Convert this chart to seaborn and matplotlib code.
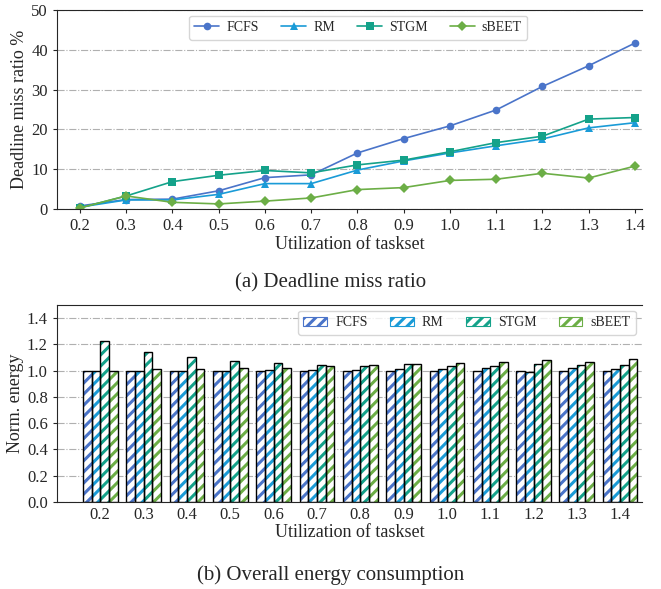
import numpy as np
import pandas as pd
import seaborn as sns
import matplotlib.pyplot as plt
from matplotlib.patches import Patch

utilization = [0.2, 0.3, 0.4, 0.5, 0.6, 0.7, 0.8, 0.9, 1.0, 1.1, 1.2, 1.3, 1.4]
schemes = ['FCFS', 'RM', 'STGM', 'sBEET']

# deadline miss ratio (%)
miss_fcfs = [0.8, 2.4, 2.5, 4.6, 7.9, 8.6, 14.1, 17.7, 20.9, 24.9, 30.8, 36.0, 41.7]
miss_rm = [0.5, 2.3, 2.3, 3.7, 6.4, 6.4, 9.8, 12.1, 14.1, 15.9, 17.6, 20.4, 21.7]
miss_stgm = [0.3, 3.3, 6.9, 8.5, 9.7, 9.1, 11.1, 12.3, 14.4, 16.7, 18.3, 22.6, 23.0]
miss_sbeet = [0.3, 3.3, 1.7, 1.3, 2.0, 2.8, 4.9, 5.4, 7.2, 7.5, 9.0, 7.8, 10.8]

# normalized energy
energy_fcfs = [1.0, 1.0, 1.0, 1.0, 1.0, 1.0, 1.0, 1.0, 1.0, 1.0, 1.0, 1.0, 1.0]
energy_rm = [0.998, 1.0, 1.0, 1.0, 1.002, 1.005, 1.008, 1.01, 1.01, 1.018, 0.987, 1.018, 1.015]
energy_stgm = [1.226, 1.145, 1.107, 1.076, 1.058, 1.04, 1.036, 1.048, 1.036, 1.036, 1.051, 1.043, 1.043]
energy_sbeet = [1.0, 1.012, 1.012, 1.02, 1.02, 1.033, 1.041, 1.051, 1.059, 1.066, 1.079, 1.069, 1.087]

colors = ['#4a74c9', '#1a9bd7', '#14a28a', '#6cae46']
markers = ['o', '^', 's', 'D']

sns.set_style('ticks')
plt.rcParams['font.family'] = ['Liberation Serif', 'DejaVu Serif']
plt.rcParams['hatch.linewidth'] = 2.2

miss = pd.DataFrame({'util': utilization * 4,
                     'scheme': np.repeat(schemes, len(utilization)),
                     'miss': miss_fcfs + miss_rm + miss_stgm + miss_sbeet})
energy = pd.DataFrame({'util': [f'{u:.1f}' for u in utilization] * 4,
                       'scheme': np.repeat(schemes, len(utilization)),
                       'energy': energy_fcfs + energy_rm + energy_stgm + energy_sbeet})

fig = plt.figure(figsize=(6.61, 5.89), dpi=100)
ax1 = fig.add_axes([0.086, 0.645, 0.885, 0.338])
ax2 = fig.add_axes([0.086, 0.148, 0.885, 0.334])

# (a) deadline miss ratio
sns.lineplot(data=miss, x='util', y='miss', hue='scheme', style='scheme', palette=colors,
             markers=markers, dashes=False, markersize=5.5, markeredgewidth=0,
             linewidth=1.2, ax=ax1)
ax1.set_xlim(0.15, 1.415)
ax1.set_ylim(0, 50)
ax1.set_xticks(utilization)
ax1.set_xticklabels([f'{u:.1f}' for u in utilization])
ax1.set_yticks([0, 10, 20, 30, 40, 50])
ax1.grid(axis='y', linestyle='-.', color='#b0b0b0', linewidth=0.8)
ax1.set_xlabel('Utilization of taskset', fontsize=13, labelpad=1)
ax1.set_ylabel('Deadline miss ratio %', fontsize=13, labelpad=2)
ax1.tick_params(labelsize=12, length=3)
ax1.legend(loc='upper center', ncol=4, fontsize=10, frameon=True, handlelength=1.8,
           handletextpad=0.5, columnspacing=1.6, borderaxespad=0.4,
           bbox_to_anchor=(0.515, 1.0))
ax1.spines['right'].set_visible(False)

# (b) energy, hatched bars: colored stripes on white, black outline
sns.barplot(data=energy, x='util', y='energy', hue='scheme', palette=colors, ax=ax2,
            width=0.8, errorbar=None, saturation=1, legend=False)
for p in ax2.patches:
    c = p.get_facecolor()
    p.set_facecolor('white')
    p.set_edgecolor(c)
    p.set_hatch('///')
    p.set_linewidth(0)
sns.barplot(data=energy, x='util', y='energy', hue='scheme', ax=ax2, width=0.8,
            errorbar=None, fill=False, palette=['black'] * 4, linewidth=1.0, legend=False)
for p in ax2.patches:
    if not p.get_fill():
        p.set_edgecolor('black')
ax2.set_xlim(-1, 12.5)
ax2.set_ylim(0, 1.5)
ax2.set_yticks(np.arange(0, 1.41, 0.2))
ax2.set_yticklabels([f'{v:.1f}' for v in np.arange(0, 1.41, 0.2)])
ax2.grid(axis='y', linestyle='-.', color='#b0b0b0', linewidth=0.8)
ax2.set_axisbelow(True)
ax2.set_xlabel('Utilization of taskset', fontsize=13, labelpad=1)
ax2.set_ylabel('Norm. energy', fontsize=13, labelpad=2)
ax2.tick_params(labelsize=12, length=3)
ax2.tick_params(axis='x', length=0)
ax2.spines['right'].set_visible(False)
handles = [Patch(facecolor='white', edgecolor=c, hatch='///', linewidth=0.8) for c in colors]
ax2.legend(handles, schemes, loc='upper right', ncol=4, fontsize=10, frameon=True,
           handlelength=1.7, handleheight=0.6, handletextpad=0.6, columnspacing=1.6,
           borderaxespad=0.4)

fig.text(0.5, 0.519, '(a) Deadline miss ratio', ha='center', va='center', fontsize=15)
fig.text(0.5, 0.023, '(b) Overall energy consumption', ha='center', va='center', fontsize=15)

fig.savefig('out.png', dpi=100)
